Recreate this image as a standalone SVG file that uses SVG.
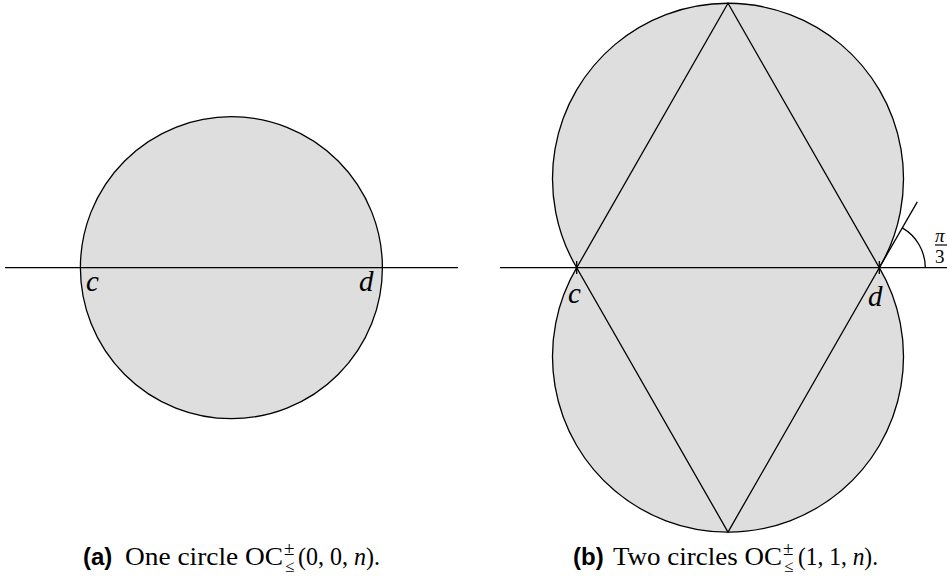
<svg xmlns="http://www.w3.org/2000/svg" width="947" height="578" viewBox="0 0 947 578">
<style>
.shape{fill:#dedede;stroke:#000;stroke-width:1.3}
.ln{fill:none;stroke:#000;stroke-width:1.3}
.lab{font-family:"Liberation Serif",serif;font-style:italic;font-size:29px}
.cap{font-family:"Liberation Serif",serif;font-size:25px}
.capb{font-family:"Liberation Sans",sans-serif;font-weight:bold;font-size:24px}
.sm{font-family:"Liberation Serif",serif;font-size:19px}
.sub{font-family:"Liberation Serif",serif;font-size:17px}
</style>
<rect width="947" height="578" fill="#fff"/>
<g id="circle-a">
<circle class="shape" cx="231.4" cy="267.7" r="151"/>
</g>
<g id="circles-b">
<path class="shape" d="M576.7 267.7 A175.5 175.5 0 1 1 879.3 267.7 A175.5 175.5 0 1 1 576.7 267.7 Z"/>
</g>
<g id="connectors">
<line class="ln" x1="5" y1="267.7" x2="458" y2="267.7"/>
<line class="ln" x1="500" y1="267.7" x2="947" y2="267.7"/>
<path class="ln" d="M576.7 267.7 L728 3.3 L879.3 267.7 L728 532.1 Z"/>
<line class="ln" x1="576.7" y1="261" x2="576.7" y2="274"/>
<line class="ln" x1="879.3" y1="261" x2="879.3" y2="274"/>
<line class="ln" x1="879.3" y1="267.7" x2="917.3" y2="201.9"/>
<path class="ln" d="M925.3 267.7 A46 46 0 0 0 902.3 227.9"/>
</g>
<g id="labels">
<text class="lab" x="86" y="291">c</text>
<text class="lab" x="359" y="291">d</text>
<text class="lab" x="568" y="303">c</text>
<text class="lab" x="868" y="306">d</text>
<text class="sm" x="935" y="242" font-style="italic">π</text>
<line x1="935" y1="245" x2="947" y2="245" stroke="#000" stroke-width="1.2"/>
<text class="sm" x="935" y="263">3</text>
</g>
<g id="caption-a">
<text class="capb" x="83" y="565">(a)</text>
<text class="cap" x="125" y="565" textLength="158" lengthAdjust="spacingAndGlyphs">One circle OC</text>
<text class="sm" x="284" y="555">±</text>
<text class="sub" x="285" y="572">≤</text>
<text class="cap" x="298" y="565" textLength="82" lengthAdjust="spacingAndGlyphs">(0, 0, <tspan font-style="italic">n</tspan>).</text>
</g>
<g id="caption-b">
<text class="capb" x="573" y="565">(b)</text>
<text class="cap" x="613" y="565" textLength="169" lengthAdjust="spacingAndGlyphs">Two circles OC</text>
<text class="sm" x="783" y="555">±</text>
<text class="sub" x="784" y="572">≤</text>
<text class="cap" x="798" y="565" textLength="80" lengthAdjust="spacingAndGlyphs">(1, 1, <tspan font-style="italic">n</tspan>).</text>
</g>
</svg>
